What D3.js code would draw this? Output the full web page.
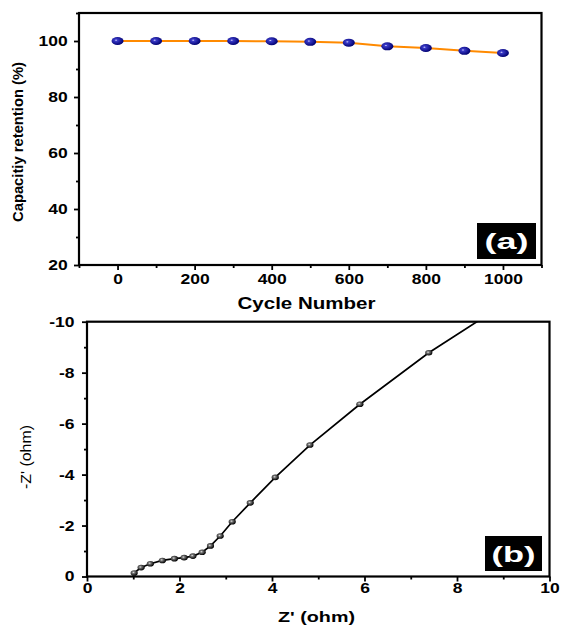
<!DOCTYPE html>
<meta charset="utf-8">
<style>
body {
  margin: 0;
  background: #fff;
}

svg text {
  font-family: Arial, "Liberation Sans", sans-serif;
}

.tick line {
  stroke: #000;
  stroke-width: 1.8;
}
</style>
<body>
<script src="https://cdn.jsdelivr.net/npm/d3@7"></script>
<script>

var width = 562,
    height = 626;

// panel (a) : capacity retention vs cycle number
var cycles = [0, 100, 200, 300, 400, 500, 600, 700, 800, 900, 1000];
var retention = [100, 100, 100, 100, 99.9, 99.7, 99.4, 98.1, 97.5, 96.5, 95.7];
var cycleTicks = [0, 200, 400, 600, 800, 1000];
var cycleMinor = [-100, 100, 300, 500, 700, 900, 1100];
var retentionTicks = [20, 40, 60, 80, 100];
var retentionMinor = [30, 50, 70, 90, 110];

// panel (b) : Nyquist plot (Z'' is negative, shown upward)
var zReal = [1.02, 1.17, 1.37, 1.63, 1.89, 2.10, 2.29, 2.49, 2.67, 2.88, 3.14, 3.53, 4.07, 4.82, 5.90, 7.39, 9.2];
var zImag = [-0.14, -0.35, -0.50, -0.63, -0.70, -0.74, -0.80, -0.95, -1.20, -1.59, -2.15, -2.89, -3.89, -5.16, -6.76, -8.78, -10.9];
var zRealTicks = [0, 2, 4, 6, 8, 10];
var zRealMinor = [1, 3, 5, 7, 9];
var zImagTicks = [0, -2, -4, -6, -8, -10];
var zImagMinor = [-1, -3, -5, -7, -9];

var plain = function(d) { return String(d); };

var svg = d3.select("body").append("svg")
    .attr("width", width)
    .attr("height", height);

var defs = svg.append("defs");

var blue = defs.append("radialGradient")
    .attr("id", "blueBall")
    .attr("cx", "38%").attr("cy", "40%").attr("r", "62%");
blue.append("stop").attr("offset", "0%").attr("stop-color", "#e0e0ff");
blue.append("stop").attr("offset", "20%").attr("stop-color", "#3a3ac8");
blue.append("stop").attr("offset", "100%").attr("stop-color", "#000070");

var grey = defs.append("radialGradient")
    .attr("id", "greyBall")
    .attr("cx", "40%").attr("cy", "40%").attr("r", "60%");
grey.append("stop").attr("offset", "0%").attr("stop-color", "#e8e8e8");
grey.append("stop").attr("offset", "30%").attr("stop-color", "#777");
grey.append("stop").attr("offset", "100%").attr("stop-color", "#000");

// stretch tick labels a bit wider, as in the figure
function styleTicks(g, sx) {
  g.select(".domain").remove();
  g.selectAll("text")
      .attr("font-size", 14)
      .attr("font-weight", "bold")
      .attr("fill", "#000")
      .attr("transform", "scale(" + sx + ",1)");
}

// ---------------- panel (a)
var xa = d3.scaleLinear().domain([-100, 1100]).range([79, 541.5]);
var ya = d3.scaleLinear().domain([20, 110]).range([265, 13]);

svg.append("g")
    .attr("transform", "translate(0," + ya(20) + ")")
    .call(d3.axisBottom(xa).tickValues(cycleMinor).tickSize(3).tickFormat(""))
    .call(function(g) { g.select(".domain").remove(); });

svg.append("g")
    .attr("transform", "translate(0," + ya(20) + ")")
    .call(d3.axisBottom(xa).tickValues(cycleTicks).tickFormat(plain).tickSize(5).tickPadding(4))
    .call(styleTicks, 1.25);

svg.append("g")
    .attr("transform", "translate(" + xa(-100) + ",0)")
    .call(d3.axisLeft(ya).tickValues(retentionMinor).tickSize(3).tickFormat(""))
    .call(function(g) { g.select(".domain").remove(); });

svg.append("g")
    .attr("transform", "translate(" + xa(-100) + ",0)")
    .call(d3.axisLeft(ya).tickValues(retentionTicks).tickFormat(plain).tickSize(5).tickPadding(4))
    .call(styleTicks, 1.25);

svg.append("rect")
    .attr("x", xa(-100))
    .attr("y", ya(110))
    .attr("width", xa(1100) - xa(-100))
    .attr("height", ya(20) - ya(110))
    .attr("fill", "none")
    .attr("stroke", "#000")
    .attr("stroke-width", 2.2);

var lineA = d3.line()
    .x(function(d, i) { return xa(cycles[i]); })
    .y(function(d) { return ya(d); });

svg.append("path")
    .datum(retention)
    .attr("d", lineA)
    .attr("fill", "none")
    .attr("stroke", "#ff8a00")
    .attr("stroke-width", 2);

svg.selectAll(".ballA")
    .data(retention)
  .enter().append("ellipse")
    .attr("class", "ballA")
    .attr("cx", function(d, i) { return xa(cycles[i]); })
    .attr("cy", function(d) { return ya(d); })
    .attr("rx", 6)
    .attr("ry", 4)
    .attr("fill", "url(#blueBall)");

svg.append("rect")
    .attr("x", 477).attr("y", 223)
    .attr("width", 59).attr("height", 36)
    .attr("fill", "#000");

svg.append("text")
    .attr("x", 506.5).attr("y", 249)
    .attr("text-anchor", "middle")
    .attr("font-size", 22)
    .attr("font-weight", "bold")
    .attr("fill", "#fff")
    .attr("textLength", 44)
    .attr("lengthAdjust", "spacingAndGlyphs")
    .text("(a)");

svg.append("text")
    .attr("x", 306.5).attr("y", 309)
    .attr("text-anchor", "middle")
    .attr("font-size", 17)
    .attr("font-weight", "bold")
    .attr("textLength", 138)
    .attr("lengthAdjust", "spacingAndGlyphs")
    .text("Cycle Number");

svg.append("text")
    .attr("transform", "translate(23,142) rotate(-90)")
    .attr("text-anchor", "middle")
    .attr("font-size", 14)
    .attr("font-weight", "bold")
    .attr("textLength", 160)
    .attr("lengthAdjust", "spacingAndGlyphs")
    .text("Capacitiy retention (%)");

// ---------------- panel (b)
var xb = d3.scaleLinear().domain([0, 10]).range([87, 549.5]);
var yb = d3.scaleLinear().domain([0, -10]).range([576.5, 321.7]);

svg.append("g")
    .attr("transform", "translate(0," + yb(0) + ")")
    .call(d3.axisBottom(xb).tickValues(zRealMinor).tickSize(3).tickFormat(""))
    .call(function(g) { g.select(".domain").remove(); });

svg.append("g")
    .attr("transform", "translate(0," + yb(0) + ")")
    .call(d3.axisBottom(xb).tickValues(zRealTicks).tickFormat(plain).tickSize(5).tickPadding(2))
    .call(styleTicks, 1.25);

svg.append("g")
    .attr("transform", "translate(" + xb(0) + ",0)")
    .call(d3.axisLeft(yb).tickValues(zImagMinor).tickSize(3).tickFormat(""))
    .call(function(g) { g.select(".domain").remove(); });

svg.append("g")
    .attr("transform", "translate(" + xb(0) + ",0)")
    .call(d3.axisLeft(yb).tickValues(zImagTicks).tickFormat(plain).tickSize(5).tickPadding(5))
    .call(styleTicks, 1.25);

defs.append("clipPath")
    .attr("id", "clipB")
  .append("rect")
    .attr("x", xb(0))
    .attr("y", yb(-10))
    .attr("width", xb(10) - xb(0))
    .attr("height", yb(0) - yb(-10));

var lineB = d3.line()
    .x(function(d, i) { return xb(zReal[i]); })
    .y(function(d) { return yb(d); });

var plotB = svg.append("g").attr("clip-path", "url(#clipB)");

plotB.append("path")
    .datum(zImag)
    .attr("d", lineB)
    .attr("fill", "none")
    .attr("stroke", "#000")
    .attr("stroke-width", 1.7);

plotB.selectAll(".ballB")
    .data(zImag)
  .enter().append("ellipse")
    .attr("class", "ballB")
    .attr("cx", function(d, i) { return xb(zReal[i]); })
    .attr("cy", function(d) { return yb(d); })
    .attr("rx", 3.6)
    .attr("ry", 2.8)
    .attr("fill", "url(#greyBall)");

svg.append("rect")
    .attr("x", xb(0))
    .attr("y", yb(-10))
    .attr("width", xb(10) - xb(0))
    .attr("height", yb(0) - yb(-10))
    .attr("fill", "none")
    .attr("stroke", "#000")
    .attr("stroke-width", 2.2);

svg.append("rect")
    .attr("x", 485).attr("y", 536)
    .attr("width", 57).attr("height", 35)
    .attr("fill", "#000");

svg.append("text")
    .attr("x", 513.5).attr("y", 561.5)
    .attr("text-anchor", "middle")
    .attr("font-size", 22)
    .attr("font-weight", "bold")
    .attr("fill", "#fff")
    .attr("textLength", 44)
    .attr("lengthAdjust", "spacingAndGlyphs")
    .text("(b)");

svg.append("text")
    .attr("x", 316.5).attr("y", 622)
    .attr("text-anchor", "middle")
    .attr("font-size", 15)
    .attr("font-weight", "bold")
    .attr("textLength", 77)
    .attr("lengthAdjust", "spacingAndGlyphs")
    .text("Z' (ohm)");

svg.append("text")
    .attr("transform", "translate(31,457) rotate(-90)")
    .attr("text-anchor", "middle")
    .attr("font-size", 14)
    .attr("textLength", 64)
    .attr("lengthAdjust", "spacingAndGlyphs")
    .text("-Z' (ohm)");

</script>
